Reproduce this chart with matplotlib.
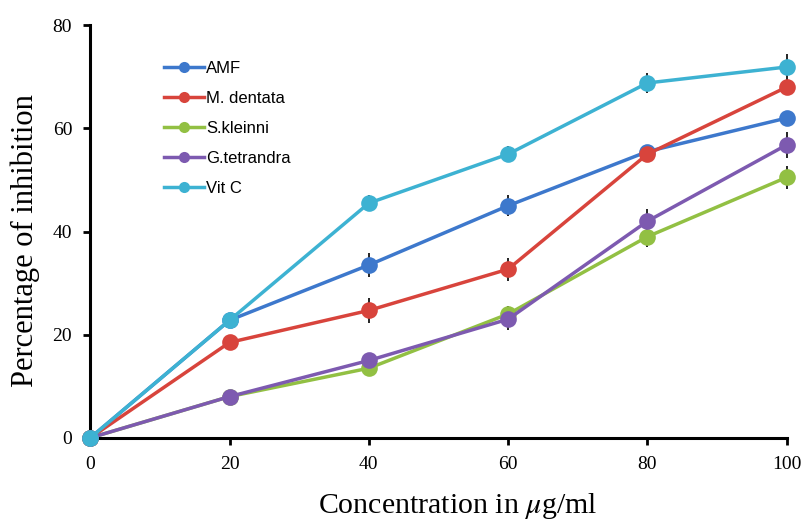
import numpy as np
import matplotlib
matplotlib.use("Agg")
import matplotlib.pyplot as plt

plt.rcParams['mathtext.fontset'] = 'stix'

# ==========================================
# DATA
# ==========================================
conc = [0, 20, 40, 60, 80, 100]

amf = [0, 22.8, 33.5, 45.0, 55.5, 62.0]
amf_err = [0, 1.0, 2.3, 2.0, 1.0, 1.0]

m_dentata = [0, 18.5, 24.7, 32.7, 55.0, 68.0]
m_dentata_err = [0, 1.0, 2.5, 2.2, 1.0, 1.5]

s_kleinni = [0, 8.0, 13.5, 24.0, 39.0, 50.5]
s_kleinni_err = [0, 1.2, 1.0, 1.5, 2.0, 2.3]

g_tetrandra = [0, 8.0, 15.0, 23.0, 42.0, 56.8]
g_tetrandra_err = [0, 1.0, 1.0, 2.0, 2.3, 2.5]

vit_c = [0, 22.8, 45.5, 55.0, 68.8, 71.9]
vit_c_err = [0, 1.0, 1.5, 1.5, 2.0, 2.5]

labels = ["AMF", "M. dentata", "S.kleinni", "G.tetrandra", "Vit C"]
colors = ["#3d78cc", "#d8443c", "#92c043", "#7d5ab0", "#3db2d2"]

series = [amf, m_dentata, s_kleinni, g_tetrandra, vit_c]
errors = [amf_err, m_dentata_err, s_kleinni_err, g_tetrandra_err, vit_c_err]

# ==========================================
# PLOT
# ==========================================
fig = plt.figure(figsize=(8.06, 5.25), dpi=100)
ax = fig.add_axes([0.112, 0.166, 0.864, 0.786])

for y, e, lab, c in zip(series, errors, labels, colors):
    ax.errorbar(conc, y, yerr=e, color=c, linewidth=2.5, marker='o', markersize=12,
                markeredgewidth=0, ecolor='black', elinewidth=1.2, capsize=4,
                capthick=1.2, label=lab, clip_on=False, zorder=3)

ax.set_xlim(0, 100)
ax.set_ylim(0, 80)
ax.set_xticks(conc)
ax.set_yticks([0, 20, 40, 60, 80])

for side in ['top', 'right']:
    ax.spines[side].set_visible(False)
for side in ['left', 'bottom']:
    ax.spines[side].set_linewidth(2.2)
ax.tick_params(axis='both', direction='out', length=5, width=2, labelsize=14, pad=8)
for lbl in ax.get_xticklabels() + ax.get_yticklabels():
    lbl.set_fontfamily('Liberation Serif')

ax.set_xlabel(r'Concentration in $\mu$g/ml', fontsize=21.5, fontfamily='Liberation Serif')
ax.set_ylabel('Percentage of inhibition', fontsize=22, fontfamily='Liberation Serif')
ax.xaxis.set_label_coords(0.527, -0.13)
ax.yaxis.set_label_coords(-0.072, 0.477)

# legend with line+marker handles only (no error bars)
handles = [plt.Line2D([], [], color=c, linewidth=2.5, marker='o', markersize=8, markeredgewidth=0)
           for c in colors]
leg = ax.legend(handles, labels, loc='upper left', bbox_to_anchor=(0.085, 0.95), frameon=False,
                prop={'family': 'Liberation Sans', 'size': 12}, handlelength=2.4,
                handletextpad=0.1, labelspacing=0.9)

plt.savefig('out.png', dpi=100)
